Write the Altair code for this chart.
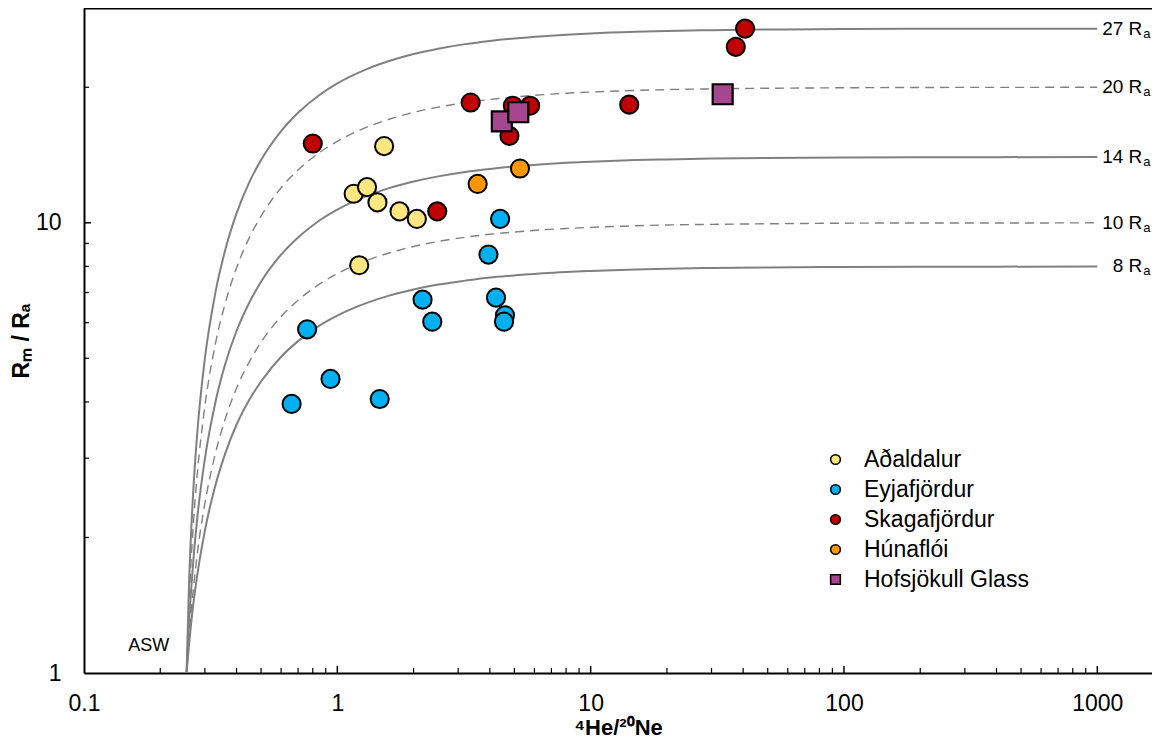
import altair as alt
import pandas as pd

# ---------------- data ----------------
groups = ["Aðaldalur", "Eyjafjördur", "Skagafjördur", "Húnaflói", "Hofsjökull Glass"]
colors = ["#FFE680", "#00B0F0", "#C00000", "#FF9600", "#A5468F"]
shapes = ["circle", "circle", "circle", "circle", "square"]

ada_x = [1.53, 1.16, 1.31, 1.44, 1.76, 2.06, 1.22]
ada_y = [14.8, 11.6, 12.0, 11.1, 10.6, 10.2, 8.05]
eyj_x = [4.39, 3.95, 2.17, 2.37, 4.23, 4.59, 4.55, 0.76, 0.94, 0.66, 1.47]
eyj_y = [10.2, 8.5, 6.75, 6.03, 6.82, 6.23, 6.03, 5.80, 4.50, 3.96, 4.06]
ska_x = [0.80, 2.48, 3.36, 4.93, 5.77, 4.78, 14.2, 40.7, 37.4]
ska_y = [15.0, 10.6, 18.5, 18.2, 18.2, 15.6, 18.3, 27.0, 24.6]
hun_x = [3.58, 5.26]
hun_y = [12.2, 13.2]
hof_x = [4.46, 5.18, 33.2]
hof_y = [16.8, 17.6, 19.3]

# mixing curves between ASW and mantle end-members
mix_x = [0.254, 0.26, 0.27, 0.28, 0.3, 0.33, 0.36, 0.4, 0.45, 0.5, 0.6, 0.7, 0.85, 1, 1.3, 1.6,
         2, 2.5, 3.2, 4, 5, 6.5, 8, 10, 15, 20, 30, 50, 100, 200, 400, 1000]
r27 = [1, 1.60, 2.54, 3.42, 4.99, 6.99, 8.65, 10.49, 12.33, 13.79, 15.99, 17.56, 19.23, 20.40, 21.92, 22.87,
       23.70, 24.36, 24.94, 25.35, 25.68, 25.98, 26.17, 26.34, 26.56, 26.67, 26.78, 26.87, 26.93, 26.97, 26.98, 26.99]
r20 = [1, 1.44, 2.13, 2.77, 3.91, 5.38, 6.59, 7.94, 9.28, 10.35, 11.96, 13.10, 14.32, 15.17, 16.29, 16.98,
       17.59, 18.07, 18.49, 18.79, 19.03, 19.26, 19.40, 19.52, 19.68, 19.76, 19.84, 19.90, 19.95, 19.98, 19.99, 20.0]
r14 = [1, 1.30, 1.77, 2.21, 2.99, 3.99, 4.83, 5.75, 6.66, 7.40, 8.50, 9.28, 10.12, 10.70, 11.46, 11.94,
       12.35, 12.68, 12.97, 13.17, 13.34, 13.49, 13.59, 13.67, 13.78, 13.83, 13.89, 13.93, 13.97, 13.98, 13.99, 14.0]
r10 = [1, 1.21, 1.53, 1.84, 2.38, 3.07, 3.65, 4.29, 4.92, 5.43, 6.19, 6.73, 7.31, 7.71, 8.24, 8.57,
       8.86, 9.09, 9.29, 9.43, 9.54, 9.65, 9.71, 9.77, 9.85, 9.89, 9.92, 9.95, 9.98, 9.99, 9.99, 10.0]
r8 = [1, 1.16, 1.42, 1.65, 2.07, 2.61, 3.06, 3.56, 4.05, 4.44, 5.04, 5.46, 5.91, 6.22, 6.63, 6.89,
      7.11, 7.29, 7.44, 7.56, 7.64, 7.73, 7.78, 7.82, 7.88, 7.91, 7.94, 7.96, 7.98, 7.99, 7.99, 8.0]
curve_ends = [27, 20, 14, 10, 8]
curve_dashed = [False, True, False, True, False]
curve_label_x = 1000

x_major = [1, 10, 100, 1000]
x_minor = [0.2, 0.3, 0.4, 0.5, 0.6, 0.7, 0.8, 0.9, 2, 3, 4, 5, 6, 7, 8, 9,
           20, 30, 40, 50, 60, 70, 80, 90, 200, 300, 400, 500, 600, 700, 800, 900]
y_major = [10]
y_minor = [2, 3, 4, 5, 6, 7, 8, 9, 20]

asw_x, asw_y = 0.18, 1.15

# ---------------- build tables ----------------
pts = []
for g, xs_, ys_ in [(groups[0], ada_x, ada_y), (groups[1], eyj_x, eyj_y), (groups[2], ska_x, ska_y),
                    (groups[3], hun_x, hun_y), (groups[4], hof_x, hof_y)]:
    for a, b in zip(xs_, ys_):
        pts.append({"x": a, "y": b, "group": g})
pts = pd.DataFrame(pts)

rows = []
for end, dashed, vals in zip(curve_ends, curve_dashed, [r27, r20, r14, r10, r8]):
    for a, b in zip(mix_x, vals):
        rows.append({"x": a, "y": b, "curve": f"{end}", "dashed": dashed})
curves = pd.DataFrame(rows)
labels = pd.DataFrame({"x": [curve_label_x] * 5, "y": curve_ends,
                       "t": [f"{e} R" for e in curve_ends], "s": ["a"] * 5})

W, H = 1068, 665
FONT = "Liberation Sans"
xs = alt.Scale(type="log", domain=[0.1, 1644], nice=False)
ys = alt.Scale(type="log", domain=[1, 30], nice=False)

xaxis = alt.Axis(values=[0.1, 1, 10, 100, 1000], format="~g", tickSize=0, grid=False,
                 labelFontSize=23, labelPadding=19, labelColor="black", labelFont=FONT,
                 labelFlush=False,
                 domainColor="black", domainWidth=2,
                 title="⁴He/²⁰Ne", titleFontSize=22, titleFontWeight="bold", titleFont=FONT,
                 titleColor="black", titlePadding=2)
yaxis = alt.Axis(values=[1, 10], format="~g", tickSize=0, grid=False,
                 labelFontSize=23, labelPadding=23, labelColor="black", labelFont=FONT,
                 labelFlush=False,
                 domainColor="black", domainWidth=2,
                 title="Rₘ / Rₐ", titleFontSize=23, titleFontWeight="bold", titleFont=FONT,
                 titleColor="black", titlePadding=2)

base = alt.Chart(curves)
solid = base.transform_filter("!datum.dashed").mark_line(
    color="#808080", strokeWidth=2, interpolate="monotone", clip=True
).encode(x=alt.X("x:Q", scale=xs, axis=xaxis), y=alt.Y("y:Q", scale=ys, axis=yaxis),
         detail="curve:N", order="x:Q")
dashed = base.transform_filter("datum.dashed").mark_line(
    color="#808080", strokeWidth=1.4, strokeDash=[9, 6], interpolate="monotone", clip=True
).encode(x=alt.X("x:Q", scale=xs), y=alt.Y("y:Q", scale=ys), detail="curve:N", order="x:Q")

xt_major = alt.Chart(pd.DataFrame({"v": x_major})).mark_rule(color="black", strokeWidth=1.5).encode(
    x=alt.X("v:Q", scale=xs), y=alt.value(H), y2=alt.value(H - 7))
xt_minor = alt.Chart(pd.DataFrame({"v": x_minor})).mark_rule(color="black", strokeWidth=1.2).encode(
    x=alt.X("v:Q", scale=xs), y=alt.value(H), y2=alt.value(H - 5))
yt_major = alt.Chart(pd.DataFrame({"v": y_major})).mark_rule(color="black", strokeWidth=1.5).encode(
    y=alt.Y("v:Q", scale=ys), x=alt.value(0), x2=alt.value(7))
yt_minor = alt.Chart(pd.DataFrame({"v": y_minor})).mark_rule(color="black", strokeWidth=1.2).encode(
    y=alt.Y("v:Q", scale=ys), x=alt.value(0), x2=alt.value(5))
top_border = alt.Chart(pd.DataFrame({"v": [0]})).mark_rule(color="black", strokeWidth=1.5).encode(
    x=alt.value(0), x2=alt.value(W), y=alt.value(0.75))

leg = alt.Legend(title=None, orient="none", legendX=740, legendY=440, padding=0,
                 labelFontSize=23, labelFont=FONT, labelColor="black", labelLimit=400,
                 symbolSize=95, symbolStrokeColor="black", symbolStrokeWidth=1.5,
                 rowPadding=6, labelOffset=17)
color_enc = alt.Color("group:N", scale=alt.Scale(domain=groups, range=colors), legend=leg, sort=groups)
shape_enc = alt.Shape("group:N", scale=alt.Scale(domain=groups, range=shapes), legend=leg, sort=groups)

circles = alt.Chart(pts).transform_filter(f"datum.group != '{groups[4]}'").mark_point(
    filled=True, size=330, stroke="black", strokeWidth=2, opacity=1
).encode(x=alt.X("x:Q", scale=xs), y=alt.Y("y:Q", scale=ys), color=color_enc, shape=shape_enc)
squares = alt.Chart(pts).transform_filter(f"datum.group == '{groups[4]}'").mark_point(
    filled=True, size=400, stroke="black", strokeWidth=2.2, opacity=1
).encode(x=alt.X("x:Q", scale=xs), y=alt.Y("y:Q", scale=ys), color=color_enc, shape=shape_enc)

lab_main = alt.Chart(labels).mark_text(font=FONT, fontSize=19, align="right", baseline="middle",
                                       dx=45, color="black").encode(
    x=alt.X("x:Q", scale=xs), y=alt.Y("y:Q", scale=ys), text="t:N")
lab_sub = alt.Chart(labels).mark_text(font=FONT, fontSize=13, align="left", baseline="middle",
                                      dx=46, dy=5, color="black").encode(
    x=alt.X("x:Q", scale=xs), y=alt.Y("y:Q", scale=ys), text="s:N")
asw = alt.Chart(pd.DataFrame({"x": [asw_x], "y": [asw_y], "t": ["ASW"]})).mark_text(
    font=FONT, fontSize=18, color="black", align="center", baseline="middle").encode(
    x=alt.X("x:Q", scale=xs), y=alt.Y("y:Q", scale=ys), text="t:N")

chart = alt.layer(solid, dashed, xt_major, xt_minor, yt_major, yt_minor, top_border,
                  circles, squares, lab_main, lab_sub, asw).properties(
    width=W, height=H,
    autosize=alt.AutoSizeParams(type="none"),
    padding={"left": 76, "top": 0, "right": 0, "bottom": 65},
).configure_view(stroke=None).configure(background="white")

chart.save("out.html", embed_options={"renderer": "svg", "actions": False})
